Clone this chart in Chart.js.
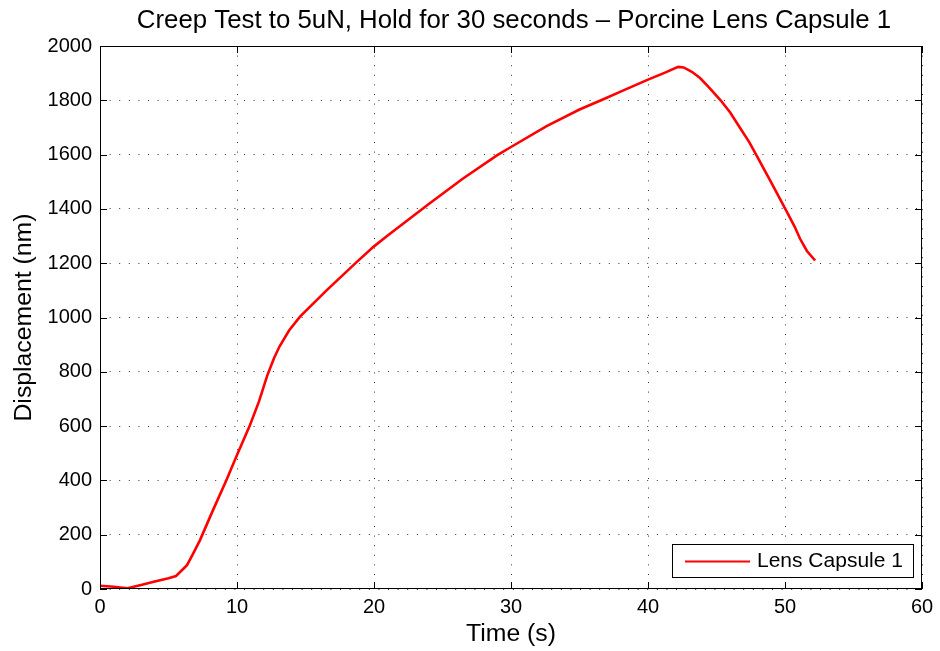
<!DOCTYPE html>
<html>
<head>
<meta charset="utf-8">
<script src="https://cdn.jsdelivr.net/npm/chart.js@4.4.0/dist/chart.umd.min.js"></script>
<style>
  body { margin: 0; background: #fff; }
  canvas { display: block; }
</style>
</head>
<body>
<canvas id="myChart" width="940" height="651"></canvas>
<script>
// values
const timeSec = [0, 1, 2, 3, 4, 5, 5.55, 6.35, 6.8, 7.3, 8.2, 9.2, 10, 10.95, 11.6, 12.2, 12.7,
  13.1, 13.8, 14.6, 16.5, 18.75, 20, 21, 24, 26.5, 29, 30, 32.6, 35, 36.7, 38, 40, 41.2, 42.2,
  42.6, 43.2, 43.8, 44.5, 45.3, 46, 46.7, 47.4, 48, 49, 50.1, 50.7, 51.1, 51.6, 52.2];
const displacementNm = [12, 8, 3, 15, 28, 40, 48, 88, 130, 180, 285, 398, 494, 604, 690, 785, 850,
  893, 952, 1003, 1098, 1205, 1262, 1302, 1418, 1512, 1598, 1628, 1705, 1766, 1803, 1832, 1876, 1901, 1923,
  1921, 1905, 1882, 1845, 1800, 1755, 1700, 1645, 1590, 1497, 1393, 1335, 1290, 1245, 1210];
const seriesLabel = "Lens Capsule 1";
const chartTitle = "Creep Test to 5uN, Hold for 30 seconds \u2013 Porcine Lens Capsule 1";
const xTicks = [0, 10, 20, 30, 40, 50, 60];
const yTicks = [0, 200, 400, 600, 800, 1000, 1200, 1400, 1600, 1800, 2000];

const FONT = "'Liberation Sans', Arial, Helvetica, sans-serif";

const points = timeSec.map((t, i) => ({ x: t, y: displacementNm[i] }));

// matlab style box, inward ticks, title and legend
const matlabBox = {
  id: "matlabBox",
  afterDatasetsDraw(chart) {
    const { ctx, chartArea: a, scales } = chart;
    ctx.save();
    ctx.strokeStyle = "#000";
    ctx.lineWidth = 1;
    ctx.strokeRect(a.left + 0.5, a.top + 0.5, a.right - a.left - 1, a.bottom - a.top - 1);
    const tl = 7;
    ctx.beginPath();
    scales.x.ticks.forEach((t) => {
      const px = Math.round(scales.x.getPixelForValue(t.value)) + 0.5;
      ctx.moveTo(px, a.bottom); ctx.lineTo(px, a.bottom - tl);
      ctx.moveTo(px, a.top); ctx.lineTo(px, a.top + tl);
    });
    scales.y.ticks.forEach((t) => {
      const py = Math.round(scales.y.getPixelForValue(t.value)) + 0.5;
      ctx.moveTo(a.left, py); ctx.lineTo(a.left + tl, py);
      ctx.moveTo(a.right, py); ctx.lineTo(a.right - tl, py);
    });
    ctx.stroke();

    // title
    ctx.fillStyle = "#000";
    ctx.font = "25.8px " + FONT;
    ctx.textAlign = "center";
    ctx.textBaseline = "middle";
    ctx.fillText(chartTitle, (a.left + a.right) / 2 + 3, 21);

    // legend
    const ds = chart.data.datasets[0];
    const bw = 241, bh = 33;
    const bx = a.right - 9 - bw, by = a.bottom - 12 - bh;
    ctx.fillStyle = "#fff";
    ctx.fillRect(bx, by, bw, bh);
    ctx.strokeStyle = "#000";
    ctx.strokeRect(bx + 0.5, by + 0.5, bw, bh);
    ctx.strokeStyle = ds.borderColor;
    ctx.lineWidth = 2;
    ctx.beginPath();
    ctx.moveTo(bx + 13, by + bh / 2 + 1);
    ctx.lineTo(bx + 78, by + bh / 2 + 1);
    ctx.stroke();
    ctx.fillStyle = "#000";
    ctx.font = "21px " + FONT;
    ctx.textAlign = "left";
    ctx.fillText(ds.label, bx + 85, by + bh / 2 + 1);
    ctx.restore();
  },
};

new Chart(document.getElementById("myChart"), {
  type: "scatter",
  data: {
    datasets: [
      {
        label: seriesLabel,
        data: points,
        showLine: true,
        borderColor: "rgb(255, 0, 0)",
        borderWidth: 2.6,
        pointRadius: 0,
        tension: 0,
      },
    ],
  },
  options: {
    responsive: false,
    animation: false,
    layout: { padding: { top: 46, right: 18, left: 0, bottom: 0 } },
    plugins: { legend: { display: false }, title: { display: false }, tooltip: { enabled: false } },
    scales: {
      x: {
        type: "linear",
        min: 0,
        max: 60,
        afterBuildTicks: (s) => { s.ticks = xTicks.map((v) => ({ value: v })); },
        afterFit: (s) => { s.height = 62; },
        ticks: { color: "#000", font: { family: FONT, size: 20 }, padding: 6, callback: (v) => String(v) },
        grid: { color: "rgba(0,0,0,0.8)", lineWidth: 1, drawTicks: false },
        border: { display: false, dash: [1, 8.6] },
        title: { display: true, text: "Time (s)", color: "#000", font: { family: FONT, size: 24.8 }, padding: { top: 0, bottom: 2 } },
      },
      y: {
        type: "linear",
        min: 0,
        max: 2000,
        afterBuildTicks: (s) => { s.ticks = yTicks.map((v) => ({ value: v })); },
        afterFit: (s) => { s.width = 100; },
        ticks: { color: "#000", font: { family: FONT, size: 20 }, padding: 8, callback: (v) => String(v) },
        grid: { color: "rgba(0,0,0,0.8)", lineWidth: 1, drawTicks: false },
        border: { display: false, dash: [1, 8.6] },
        title: { display: true, text: "Displacement (nm)", color: "#000", font: { family: FONT, size: 24.8 }, padding: { top: 9, bottom: 0 } },
      },
    },
  },
  plugins: [matlabBox],
});
</script>
</body>
</html>
